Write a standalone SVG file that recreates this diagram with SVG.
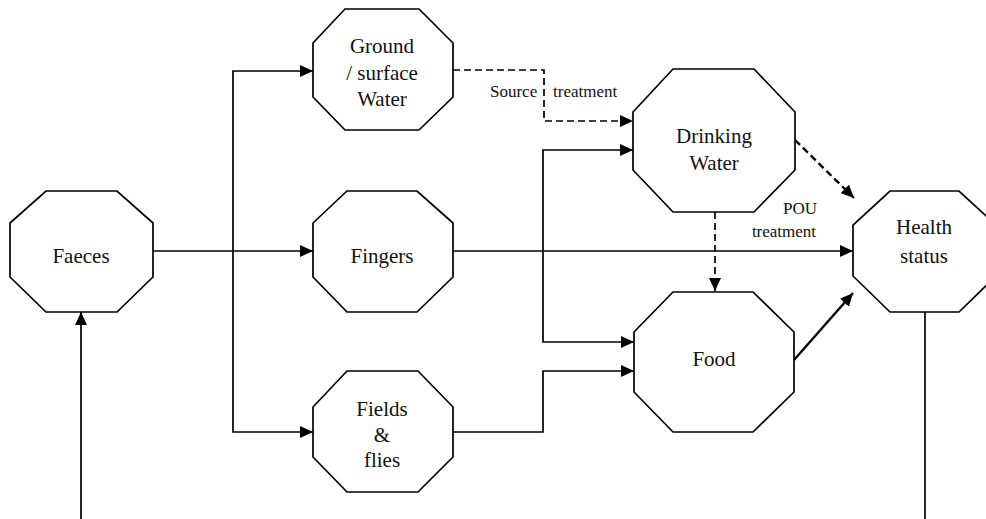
<svg xmlns="http://www.w3.org/2000/svg" width="986" height="519" viewBox="0 0 986 519">
<style>
.oct{fill:#fff;stroke:#000;stroke-width:1.7;stroke-linejoin:miter}
.t{font-family:"Liberation Serif","Times New Roman",serif;font-size:21px;fill:#111;text-anchor:middle}
.s{font-family:"Liberation Serif","Times New Roman",serif;font-size:17px;fill:#111}
.c{fill:none;stroke:#000;stroke-width:1.7}
.d{stroke-dasharray:7 4}
.thick{stroke-width:2.4}
</style>
<defs>
<marker id="ah" markerUnits="userSpaceOnUse" viewBox="0 0 13 12" refX="13" refY="6" markerWidth="13" markerHeight="12" orient="auto">
<path d="M0,0 L13,6 L0,12 z" fill="#000"/>
</marker>
</defs>
<rect width="986" height="519" fill="#fff"/>
<g id="connectors">
<path class="c" d="M153 251 H313" marker-end="url(#ah)"/>
<path class="c" d="M233 251 V71 H313" marker-end="url(#ah)"/>
<path class="c" d="M233 251 V432 H313" marker-end="url(#ah)"/>
<path class="c d" d="M453 70 H544 V121 H633" marker-end="url(#ah)"/>
<path class="c" d="M453 251 H853" marker-end="url(#ah)"/>
<path class="c" d="M543 251 V150 H633" marker-end="url(#ah)"/>
<path class="c" d="M543 251 V342 H634" marker-end="url(#ah)"/>
<path class="c" d="M453 432 H543 V371 H634" marker-end="url(#ah)"/>
<path class="c d" d="M715 212 V291" marker-end="url(#ah)"/>
<path class="c d thick" d="M795 140 L854 198" marker-end="url(#ah)"/>
<path class="c thick" d="M794 360 L853 293" marker-end="url(#ah)"/>
<path class="c" d="M81 519 V312" marker-end="url(#ah)"/>
<path class="c" d="M925 312 V519"/>
<text class="s" x="490" y="97">Source</text>
<text class="s" x="553" y="97">treatment</text>
<text class="s" x="800" y="214" text-anchor="middle">POU</text>
<text class="s" x="784" y="237" text-anchor="middle">treatment</text>
</g>
<g id="faeces">
<polygon class="oct" points="46,191 117,191 153,223 153,277 117,312 46,312 10,277 10,223"/>
<text class="t" x="81" y="263">Faeces</text>
</g>
<g id="ground-water">
<polygon class="oct" points="345,9 419,9 453,43 453,97 419,130 345,130 313,97 313,43"/>
<text class="t" x="382" y="53">Ground</text>
<text class="t" x="382" y="80">/ surface</text>
<text class="t" x="382" y="106">Water</text>
</g>
<g id="fingers">
<polygon class="oct" points="347,191 417,191 453,223 453,277 417,312 347,312 313,277 313,223"/>
<text class="t" x="382" y="263">Fingers</text>
</g>
<g id="fields-flies">
<polygon class="oct" points="347,371 418,371 453,407 453,457 418,492 347,492 313,457 313,407"/>
<text class="t" x="382" y="416">Fields</text>
<text class="t" x="382" y="442">&amp;</text>
<text class="t" x="382" y="467">flies</text>
</g>
<g id="drinking-water">
<polygon class="oct" points="673,69 754,69 795,112 795,170 754,212 673,212 633,170 633,112"/>
<text class="t" x="714" y="143">Drinking</text>
<text class="t" x="714" y="170">Water</text>
</g>
<g id="food">
<polygon class="oct" points="673,292 753,292 794,332 794,392 753,432 673,432 634,392 634,332"/>
<text class="t" x="714" y="366">Food</text>
</g>
<g id="health-status">
<polygon class="oct" points="890,191 959,191 996,225 996,276 959,312 890,312 853,276 853,225"/>
<text class="t" x="924" y="234">Health</text>
<text class="t" x="924" y="263">status</text>
</g>
</svg>
